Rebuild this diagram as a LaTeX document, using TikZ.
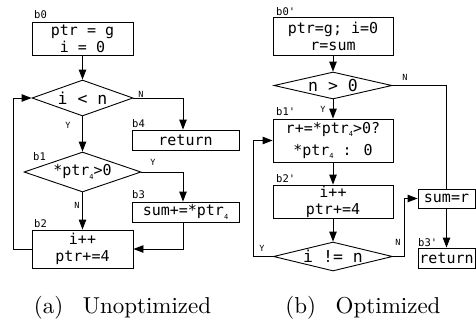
\documentclass[tikz,border=0pt]{standalone}
\usepackage{fontspec}
\newfontfamily\monofam{DejaVu Sans Mono}
\newfontfamily\capfont{lmroman10-regular}[Extension=.otf]
\usetikzlibrary{shapes.geometric,arrows.meta}
\newcommand\codetext{\monofam\fontsize{15}{17}\selectfont}
\newcommand\condtext{\monofam\fontsize{16.5}{19}\selectfont}
\newcommand\blbltext{\monofam\fontsize{10.5}{12}\selectfont}
\newcommand\yntext{\monofam\fontsize{8.5}{9}\selectfont}
\newcommand\lowsub[1]{\raisebox{-0.45ex}{\fontsize{7}{7}\selectfont #1}}
\begin{document}
\begin{tikzpicture}[x=1pt,y=-1pt,
  codebox/.style={draw, line width=0.9pt, font=\codetext, align=center, inner sep=0pt},
  cond/.style={draw, diamond, line width=0.9pt, font=\condtext, inner sep=0pt, aspect=3},
  blbl/.style={font=\blbltext, anchor=base west, inner sep=0pt},
  yn/.style={font=\yntext, inner sep=0pt},
  arr/.style={-{Triangle[length=10pt,width=7.5pt]}, line width=0.9pt},
  ln/.style={line width=0.9pt},
  capt/.style={font=\capfont\fontsize{23}{26}\selectfont, anchor=base, inner sep=0pt}]
\useasboundingbox (0,0) rectangle (476,322);

% ---------- left: unoptimized ----------
\node[codebox, minimum width=101pt, minimum height=33pt] (b0) at (82.5,38.5) {ptr = g\\i = 0};
\node[cond, minimum width=101pt, minimum height=36pt] (d1) at (82.5,98) {i < n};
\node[codebox, minimum width=107pt, minimum height=20pt] (ret) at (185.5,140) {return};
\node[cond, font=\codetext, minimum width=117pt, minimum height=40pt] (d2) at (82.5,172) {*ptr\lowsub{4}>0};
\node[codebox, minimum width=107pt, minimum height=20pt] (b3) at (185.5,212) {sum+=*ptr\lowsub{4}};
\node[codebox, minimum width=101pt, minimum height=38pt] (b2) at (82.5,249) {i++\\ptr+=4};
\coordinate (lp) at (13,249);

\node[blbl] (lb0) at (34,18) {b0};
\node[blbl] (lb4) at (132,127) {b4};
\node[blbl] (lb1) at (33,160) {b1};
\node[blbl] (lb3) at (132,198) {b3};
\node[blbl] (lb2) at (34,227) {b2};

\node[yn] (n1) at (141,94) {N};
\node[yn] (y1) at (68,125.5) {Y};
\node[yn] (y2) at (153,162.5) {Y};
\node[yn] (n2) at (77,205) {N};

\draw[arr] (b0) -- (d1);
\draw[arr] (d1.east) -| ([xshift=-2.5pt]ret.north);
\draw[arr] (d1) -- (d2);
\draw[arr] (d2.east) -| ([xshift=-2.5pt]b3.north);
\draw[arr] (d2) -- (b2);
\draw[arr] ([xshift=-2.5pt]b3.south) |- (b2.east);
\draw[arr] (b2.west) -- (lp) |- (d1.west);

\node[capt] (capa) at (122.5,313) {(a)\hspace{0.85em}Unoptimized};

% ---------- right: optimized ----------
\node[codebox, minimum width=120pt, minimum height=38pt] (b0p) at (333,36) {ptr=g; i=0\\r=sum};
\node[cond, aspect=4, minimum width=118pt, minimum height=27pt] (d3) at (333,85.5) {n > 0};
\node[codebox, minimum width=120pt, minimum height=43pt] (b1p) at (333,140.5) {r+=*ptr\lowsub{4}>0?\\[5pt]*ptr\lowsub{4} : 0};
\node[codebox, minimum width=120pt, minimum height=33pt] (b2p) at (333,201.5) {i++\\ptr+=4};
\node[cond, aspect=4, minimum width=119pt, minimum height=29pt] (d4) at (333,256.5) {i != n};
\node[codebox, minimum width=57pt, minimum height=19pt] (sumr) at (446.5,198.5) {sum=r};
\node[codebox, minimum width=57pt, minimum height=20pt] (retp) at (446.5,258) {return};
\coordinate (rlp) at (253,256.5);
\coordinate (rnp) at (404,256.5);

\node[blbl] (lb0p) at (276,15) {b0'};
\node[blbl] (lb1p) at (276,115) {b1'};
\node[blbl] (lb2p) at (276,182) {b2'};
\node[blbl] (lb3p) at (418,246) {b3'};

\node[yn] (n3) at (405,77) {N};
\node[yn] (y3) at (323,109) {Y};
\node[yn] (y4) at (262,248) {Y};
\node[yn] (n4) at (398,242) {N};

\draw[arr] (b0p) -- (d3);
\draw[arr] (d3) -- (b1p);
\draw[arr] (b1p) -- (b2p);
\draw[arr] (b2p) -- (d4);
\draw[arr] (d4.west) -- (rlp) |- (b1p.west);
\draw[arr] (d4.east) -- (rnp) |- (sumr.west);
\draw[ln] (d3.east) -| (sumr.north);
\draw[arr] (sumr) -- (retp);

\node[capt] (capb) at (363,313) {(b)\hspace{0.85em}Optimized};
\end{tikzpicture}
\end{document}
